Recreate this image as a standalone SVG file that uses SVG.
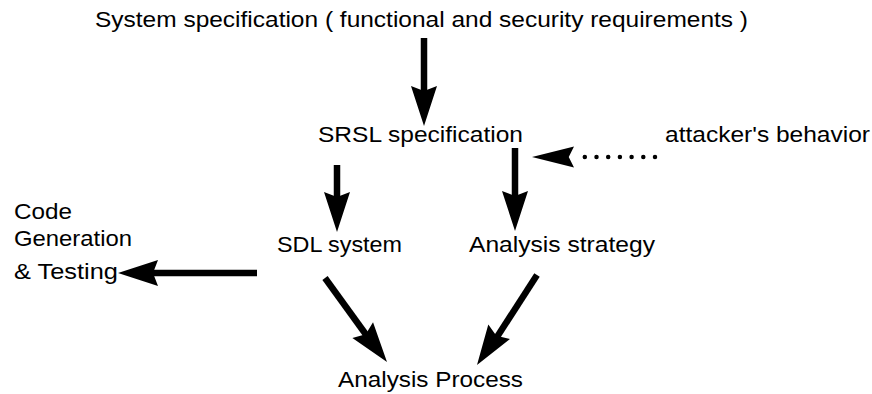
<svg xmlns="http://www.w3.org/2000/svg" width="872" height="394" viewBox="0 0 872 394">
  <style>
    text { font-family: "Liberation Sans", Arial, sans-serif; font-size: 21.5px; fill: #000; }
    .shaft { stroke: #000; stroke-width: 6.5; fill: none; }
    .dots { stroke: #000; stroke-width: 4.5; stroke-linecap: round; stroke-dasharray: 0 11.7; fill: none; }
  </style>
  <defs>
    <!-- barbed arrowhead, tip at origin pointing +x -->
    <path id="head" d="M0,0 L-40,-13 L-35,0 L-40,13 Z" fill="#000"/>
  </defs>
  <rect width="872" height="394" fill="#fff"/>

  <g id="system-spec"><text x="95" y="27" textLength="653" lengthAdjust="spacingAndGlyphs">System specification ( functional and security requirements )</text></g>
  <g id="srsl-spec"><text x="318" y="142" textLength="205" lengthAdjust="spacingAndGlyphs">SRSL specification</text></g>
  <g id="attacker"><text x="665" y="142" textLength="205" lengthAdjust="spacingAndGlyphs">attacker's behavior</text></g>
  <g id="sdl-system"><text x="277" y="252" textLength="125" lengthAdjust="spacingAndGlyphs">SDL system</text></g>
  <g id="analysis-strategy"><text x="469" y="252" textLength="186" lengthAdjust="spacingAndGlyphs">Analysis strategy</text></g>
  <g id="code-gen">
    <text x="14" y="219" textLength="58" lengthAdjust="spacingAndGlyphs">Code</text>
    <text x="14" y="246" textLength="118" lengthAdjust="spacingAndGlyphs">Generation</text>
    <text x="14" y="279" textLength="104" lengthAdjust="spacingAndGlyphs">&amp; Testing</text>
  </g>
  <g id="analysis-process"><text x="338" y="387" textLength="185" lengthAdjust="spacingAndGlyphs">Analysis Process</text></g>

  <g id="connectors">
    <line class="shaft" x1="424" y1="38" x2="424" y2="95"/>
    <use href="#head" transform="translate(424,126) rotate(90)"/>

    <line class="shaft" x1="337" y1="165" x2="337" y2="200"/>
    <use href="#head" transform="translate(337,232) rotate(90)"/>

    <line class="shaft" x1="515" y1="148" x2="515" y2="200"/>
    <use href="#head" transform="translate(515,231) rotate(90)"/>

    <line class="dots" x1="655" y1="157" x2="583" y2="157"/>
    <use href="#head" transform="translate(532,157) rotate(180) scale(1.05,0.8)"/>

    <line class="shaft" x1="257" y1="273" x2="150" y2="273"/>
    <use href="#head" transform="translate(118,273) rotate(180)"/>

    <line class="shaft" x1="325" y1="278" x2="367" y2="336"/>
    <use href="#head" transform="translate(387,362) rotate(52.6)"/>

    <line class="shaft" x1="537" y1="275" x2="497" y2="337"/>
    <use href="#head" transform="translate(477,365) rotate(123.6)"/>
  </g>
</svg>
